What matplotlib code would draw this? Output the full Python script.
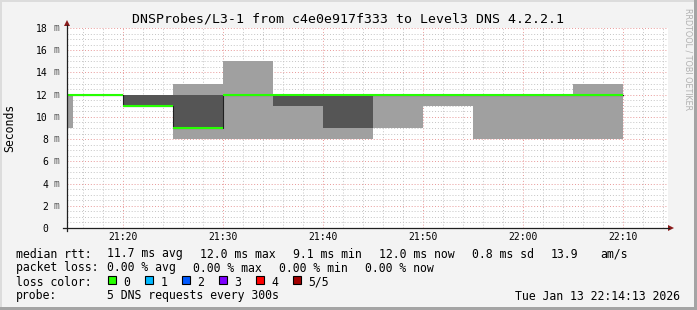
import numpy as np
import matplotlib
matplotlib.use("Agg")
import matplotlib.pyplot as plt
from matplotlib.patches import Rectangle, Polygon
from matplotlib.lines import Line2D

# 5 minute bins, start in minutes after 21:00
bin_start = [10, 15, 20, 25, 30, 35, 40, 45, 50, 55, 60, 65]
# sorted ping rtts of the 5 requests in each bin (ms)
ping_min = [9, 12, 11, 8, 8, 8, 8, 9, 11, 8, 8, 8]
ping_2nd = [12, 12, 11, 9, 12, 11, 9, 12, 12, 12, 12, 12]
median_rtt = [12, 12, 11, 9, 12, 12, 12, 12, 12, 12, 12, 12]
ping_4th = [12, 12, 12, 12, 12, 12, 12, 12, 12, 12, 12, 12]
ping_max = [12, 12, 12, 13, 15, 12, 12, 12, 12, 12, 12, 13]
bin_width = 5

x_ticks = [20, 30, 40, 50, 60, 70]
x_labels = ["21:20", "21:30", "21:40", "21:50", "22:00", "22:10"]
y_ticks = [0, 2, 4, 6, 8, 10, 12, 14, 16, 18]

title = "DNSProbes/L3-1 from c4e0e917f333 to Level3 DNS 4.2.2.1"
rtt_fields = ["11.7 ms avg", "12.0 ms max", "9.1 ms min", "12.0 ms now", "0.8 ms sd", "13.9", "am/s"]
loss_fields = ["0.00 % avg", "0.00 % max", "0.00 % min", "0.00 % now"]
loss_labels = ["0", "1", "2", "3", "4", "5/5"]
loss_colors = ["#26ff00", "#00b8ff", "#0059ff", "#7e00ff", "#ff0000", "#a10000"]
probe_text = "5 DNS requests every 300s"
stamp = "Tue Jan 13 22:14:13 2026"

W, H = 697, 310
plt.rcParams['font.family'] = ['DejaVu Sans Mono']


def fx(px):
    return px / W


def fy(py):
    return 1 - py / H


fig = plt.figure(figsize=(W / 100, H / 100), dpi=100, facecolor='#f3f3f3')

# frame around the canvas
fig.patches.append(Rectangle((0, 1 - 2 / H), 1, 2 / H, transform=fig.transFigure, color='#dcdcdc', lw=0))
fig.patches.append(Rectangle((0, 0), 2 / W, 1, transform=fig.transFigure, color='#dcdcdc', lw=0))
fig.patches.append(Rectangle((0, 0), 1, 3 / H, transform=fig.transFigure, color='#a4a4a4', lw=0))
fig.patches.append(Rectangle((1 - 3 / W, 0), 3 / W, 1, transform=fig.transFigure, color='#a4a4a4', lw=0))

ax = fig.add_axes([fx(67), fy(228), 601 / W, 200 / H])
ax.set_facecolor('white')
for s in ax.spines.values():
    s.set_visible(False)

lo = np.array(ping_min)
q1 = np.array(ping_2nd)
q3 = np.array(ping_4th)
hi = np.array(ping_max)
med = np.array(median_rtt)
starts = np.array(bin_start)

# smoke
ax.bar(starts, hi - lo, bottom=lo, width=bin_width, align='edge',
       color='#a0a0a0', linewidth=0, antialiased=False, zorder=2)
ax.bar(starts, q3 - q1, bottom=q1, width=bin_width, align='edge',
       color='#555555', linewidth=0, antialiased=False, zorder=3)

# median line
xs = np.append(starts, starts[-1] + bin_width)
ys = np.append(med, med[-1])
ax.step(xs, ys, where='post', color='#202020', lw=0.8, zorder=4)
ax.hlines(med, starts, starts + bin_width, color='#26ff00', lw=1.5, zorder=5)

ax.set_xlim(14.37, 74.47)
ax.set_ylim(0, 18)

ax.set_xticks(x_ticks, labels=x_labels)
ax.set_xticks(np.arange(16, 75, 2), minor=True)
ax.set_yticks(y_ticks, labels=[str(v) for v in y_ticks])
ax.set_yticks(np.arange(0, 18.01, 0.5), minor=True)
ax.set_axisbelow(True)
ax.grid(which='minor', color='#c4c4c4', linestyle=(0, (1, 2)), lw=0.7)
ax.grid(which='major', color='#e89898', linestyle=(0, (1, 2)), lw=0.7)
ax.tick_params(which='both', length=0, labelsize=7)
ax.tick_params(axis='x', which='major', pad=3.2)
ax.tick_params(axis='y', which='major', pad=13.7)

for v in y_ticks[1:]:
    ax.text(-13 / 601, v, "m", transform=ax.get_yaxis_transform(), ha='left', va='center',
            fontsize=7, color='#555555', clip_on=False)

# axis lines with arrows
fig.add_artist(Line2D([fx(63), fx(669)], [fy(228), fy(228)], color='#202020', lw=0.9))
fig.add_artist(Line2D([fx(67), fx(67)], [fy(231), fy(25)], color='#202020', lw=0.9))
fig.add_artist(Polygon([[fx(64), fy(26)], [fx(70), fy(26)], [fx(67), fy(20)]], closed=True,
                       transform=fig.transFigure, color='#8b1a1a', lw=0))
fig.add_artist(Polygon([[fx(668), fy(225)], [fx(668), fy(231)], [fx(674), fy(228)]], closed=True,
                       transform=fig.transFigure, color='#8b1a1a', lw=0))

fig.text(0.5, fy(19), title, ha='center', va='center', fontsize=9.5)
fig.text(fx(10), fy(128), "Seconds", rotation=90, ha='center', va='center', fontsize=8.3)
fig.text(fx(688), fy(59), "RRDTOOL / TOBI OETIKER", rotation=270, ha='center', va='center',
         fontsize=5.8, color='#b0b0b0', family='DejaVu Sans')

# legend block
fs = 8.3
rtt_x = [107, 200, 293, 379, 472, 551, 600]
fig.text(fx(16), fy(254), "median rtt:", va='center', fontsize=fs)
for xp, t in zip(rtt_x, rtt_fields):
    fig.text(fx(xp), fy(254), t, va='center', fontsize=fs)

loss_x = [107, 193, 279, 365]
fig.text(fx(16), fy(268), "packet loss:", va='center', fontsize=fs)
for xp, t in zip(loss_x, loss_fields):
    fig.text(fx(xp), fy(268), t, va='center', fontsize=fs)

fig.text(fx(16), fy(282), "loss color:", va='center', fontsize=fs)
for i, (lab, col) in enumerate(zip(loss_labels, loss_colors)):
    x0 = 108.3 + i * 37
    fig.patches.append(Rectangle((fx(x0), fy(283.5)), 7.5 / W, 7.5 / H, transform=fig.transFigure,
                                 facecolor=col, edgecolor='black', lw=0.8))
    fig.text(fx(x0 + 15), fy(282), lab, va='center', fontsize=fs)

fig.text(fx(16), fy(296), "probe:", va='center', fontsize=fs)
fig.text(fx(107), fy(296), probe_text, va='center', fontsize=fs)
fig.text(fx(680), fy(296), stamp, va='center', ha='right', fontsize=fs)

fig.savefig("out.png", dpi=100, facecolor=fig.get_facecolor())
